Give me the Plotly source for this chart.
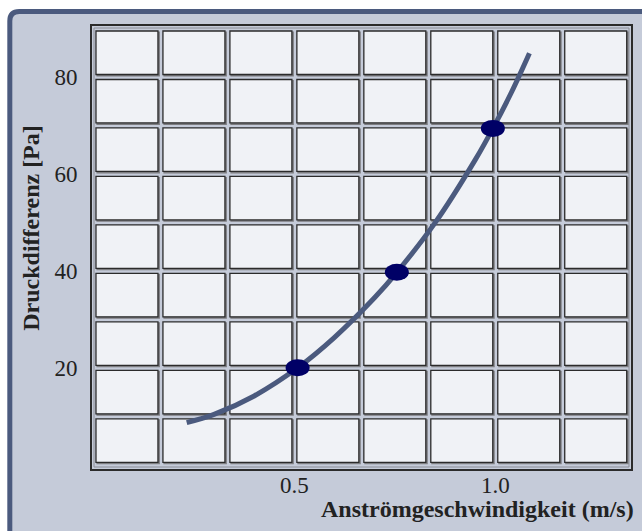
import plotly.graph_objects as go

# ---- data ----
curve_x = [0.232, 0.30, 0.40, 0.508, 0.60, 0.70, 0.755, 0.85, 0.95, 0.994, 1.04, 1.085]
curve_y = [8.7, 10.4, 14.2, 20.0, 26.3, 34.5, 39.7, 49.9, 62.9, 69.4, 76.8, 84.9]
point_x = [0.508, 0.755, 0.994]
point_y = [20.0, 39.7, 69.4]
x_tickvals = [0.5, 1.0]
x_ticktext = ["0.5", "1.0"]
y_tickvals = [20, 40, 60, 80]
y_ticktext = ["20", "40", "60", "80"]
x_grid = [k / 6 for k in range(9)]      # column boundaries
y_grid = [10 * k for k in range(10)]     # row boundaries
x_title = "Anströmgeschwindigkeit (m/s)"
y_title = "Druckdifferenz [Pa]"

# ---- style ----
W, H = 642, 531
ML, MR, MT, MB = 92, 9, 26, 62
PW, PH = W - ML - MR, H - MT - MB
XR = [-0.0037, 1.3378]
YR = [-0.87, 90.52]
BOX_FILL = "#c5cbd9"
BOX_LINE = "#4b5a7e"
CELL_FILL = "#f0f2f6"
CELL_LINE = "#2b2b2b"
SHADOW = "#7d7d80"
CURVE = "#4b5a7e"
DOT = "#000066"
TXT = "#222222"
FONT = "Liberation Serif"

xpx = (XR[1] - XR[0]) / PW   # data units per pixel
ypx = (YR[1] - YR[0]) / PH


def px2paper(px, py):
    return (px - ML) / PW, 1 - (py - MT) / PH


shapes = []
# outer rounded box (top-left corner rounded, extends beyond right/bottom)
pts = {
    "a": px2paper(9.5, 560), "b": px2paper(9.5, 21), "c": px2paper(9.5, 11.5),
    "d": px2paper(19, 11.5), "e": px2paper(660, 11.5), "f": px2paper(660, 560),
}
path = (f"M {pts['a'][0]},{pts['a'][1]} L {pts['b'][0]},{pts['b'][1]} "
        f"Q {pts['c'][0]},{pts['c'][1]} {pts['d'][0]},{pts['d'][1]} "
        f"L {pts['e'][0]},{pts['e'][1]} L {pts['f'][0]},{pts['f'][1]} Z")
shapes.append(dict(type="path", xref="paper", yref="paper", path=path,
                   fillcolor=BOX_FILL, line=dict(color=BOX_LINE, width=5),
                   layer="below"))

# grid cells (white rectangles with dark border and a small shadow)
pad_x, pad_y = 2.5 * xpx, 2.5 * ypx
for i in range(len(x_grid) - 1):
    for j in range(len(y_grid) - 1):
        x0, x1 = x_grid[i] + pad_x, x_grid[i + 1] - pad_x
        y0, y1 = y_grid[j] + pad_y, y_grid[j + 1] - pad_y
        shapes.append(dict(type="rect", xref="x", yref="y",
                           x0=x0 + 1.2 * xpx, x1=x1 + 1.2 * xpx,
                           y0=y0 - 1.2 * ypx, y1=y1 - 1.2 * ypx,
                           fillcolor=SHADOW, line=dict(color=SHADOW, width=1.5),
                           layer="below"))
        shapes.append(dict(type="rect", xref="x", yref="y",
                           x0=x0, x1=x1, y0=y0, y1=y1,
                           fillcolor=CELL_FILL, line=dict(color=CELL_LINE, width=1.3),
                           layer="below"))

# inner light frame line
shapes.append(dict(type="rect", xref="paper", yref="paper",
                   x0=2 / PW, x1=1 - 2 / PW, y0=2 / PH, y1=1 - 2 / PH,
                   line=dict(color="#8a8d96", width=1), layer="below"))

# elliptical data points anchored at data coordinates
for px_, py_ in zip(point_x, point_y):
    shapes.append(dict(type="circle", xref="x", yref="y",
                       xsizemode="pixel", ysizemode="pixel",
                       xanchor=px_, yanchor=py_,
                       x0=-12, x1=12, y0=-8.5, y1=8.5,
                       fillcolor=DOT, line=dict(color=DOT, width=0),
                       layer="above"))

fig = go.Figure()
fig.add_trace(go.Scatter(x=curve_x, y=curve_y, mode="lines",
                         line=dict(color=CURVE, width=5, shape="spline", smoothing=1),
                         hoverinfo="skip", showlegend=False))
fig.add_trace(go.Scatter(x=point_x, y=point_y, mode="markers",
                         marker=dict(color=DOT, size=1, opacity=0),
                         showlegend=False))

fig.update_layout(
    width=W, height=H,
    margin=dict(l=ML, r=MR, t=MT, b=MB, pad=0),
    paper_bgcolor="white", plot_bgcolor=BOX_FILL,
    font=dict(family=FONT, color=TXT, size=23),
    shapes=shapes,
    showlegend=False,
    xaxis=dict(range=XR, tickvals=x_tickvals, ticktext=x_ticktext,
               showgrid=False, zeroline=False, showline=True, mirror=True,
               linecolor=CELL_LINE, linewidth=2, ticks="",
               ticklabelstandoff=-6,
               tickfont=dict(family=FONT, size=23, color=TXT), fixedrange=True),
    yaxis=dict(range=YR, tickvals=y_tickvals, ticktext=y_ticktext,
               showgrid=False, zeroline=False, showline=True, mirror=True,
               linecolor=CELL_LINE, linewidth=2, ticks="",
               ticklabelstandoff=8,
               tickfont=dict(family=FONT, size=23, color=TXT), fixedrange=True),
    annotations=[
        dict(text=f"<b>{x_title}</b>", xref="paper", yref="paper",
             x=px2paper(638, 0)[0], y=px2paper(0, 509)[1],
             xanchor="right", yanchor="middle", showarrow=False,
             font=dict(family=FONT, size=24, color=TXT)),
        dict(text=f"<b>{y_title}</b>", xref="paper", yref="paper",
             x=px2paper(30.5, 0)[0], y=px2paper(0, 228)[1],
             xanchor="center", yanchor="middle", textangle=-90, showarrow=False,
             font=dict(family=FONT, size=24, color=TXT)),
    ],
)

fig.write_html("out.html", config={"displayModeBar": False},
               post_script="document.body.style.margin='0';document.body.style.overflow='hidden';")
